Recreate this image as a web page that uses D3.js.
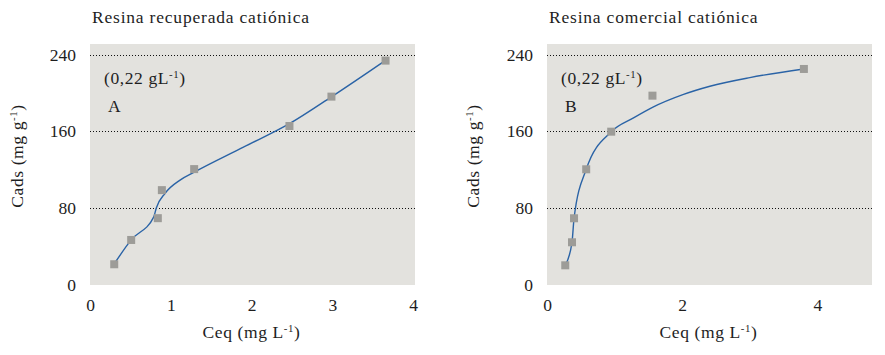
<!DOCTYPE html>
<html>
<head>
<meta charset="utf-8">
<script src="https://cdn.jsdelivr.net/npm/d3@7"></script>
<style>
  body { margin: 0; background: #fff; }
  .grid line { stroke: #111; stroke-width: 1; stroke-dasharray: 1,2; }
</style>
</head>
<body>
<div id="chart"></div>
<script>
// y ticks shared by both panels
const yTicks = [0, 80, 160, 240];

// panel A: Resina recuperada catiónica
const titleA = "Resina recuperada catiónica";
const xTicksA = [0, 1, 2, 3, 4];
const ceqA = [0.30, 0.51, 0.84, 0.89, 1.29, 2.47, 2.99, 3.66];
const cadsA = [21.6, 46.9, 69.6, 98.8, 120.7, 165.6, 196.2, 233.7];
// fitted curve
const fitCeqA = [0.30, 0.51, 0.79, 0.82, 0.93, 1.12, 1.29, 1.9, 2.47, 2.99, 3.66];
const fitCadsA = [22, 47, 71, 80, 95.5, 109.5, 117.5, 143.6, 168, 196, 234];

// panel B: Resina comercial catiónica
const titleB = "Resina comercial catiónica";
const xTicksB = [0, 2, 4];
const ceqB = [0.27, 0.37, 0.40, 0.58, 0.95, 1.56, 3.80];
const cadsB = [20.5, 44.5, 69.5, 120.5, 159.7, 197.2, 225];
const fitCeqB = [0.27, 0.37, 0.40, 0.58, 0.95, 1.28, 1.56, 2.02, 2.41, 3.0, 3.80];
const fitCadsB = [20.5, 44.5, 69.5, 120.5, 159.5, 174, 185, 198.5, 207, 216, 225];

const W = 885, H = 355;
const FONT = "'Liberation Serif', 'Times New Roman', serif";

const svg = d3.select("#chart").append("svg")
  .attr("width", W)
  .attr("height", H);

function serif(sel, size, spacing) {
  sel.style("font-family", FONT)
    .style("font-size", size + "px")
    .style("letter-spacing", (spacing || 0) + "px")
    .style("fill", "#1e1e1e");
}

function supLabel(sel, before, after) {
  sel.text(before);
  sel.append("tspan").style("font-size", "62%").attr("dy", -6).text("-1");
  sel.append("tspan").attr("dy", 6).text(after);
}

function drawPanel(opt) {
  const g = svg.append("g")
    .attr("transform", "translate(" + opt.left + "," + opt.top + ")");
  const width = opt.width, height = opt.height;

  const x = d3.scaleLinear().domain([0, opt.xMax]).range([0, width]);
  const y = d3.scaleLinear().domain([0, 251]).range([height, 0]);

  g.append("rect")
    .attr("width", width)
    .attr("height", height)
    .attr("fill", "#e3e2de");

  // dotted grid lines
  g.append("g")
    .attr("class", "grid")
    .selectAll("line")
    .data(yTicks.filter(d => d > 0))
    .join("line")
    .attr("x1", 0)
    .attr("x2", width)
    .attr("y1", d => Math.round(y(d)) + 0.5)
    .attr("y2", d => Math.round(y(d)) + 0.5);

  const yAxis = g.append("g")
    .call(d3.axisLeft(y).tickValues(yTicks).tickFormat(d3.format("d"))
      .tickSize(0).tickPadding(14));
  yAxis.select(".domain").remove();
  yAxis.selectAll("text").call(serif, 17.5);

  const xAxis = g.append("g")
    .attr("transform", "translate(0," + height + ")")
    .call(d3.axisBottom(x).tickValues(opt.xTicks).tickFormat(d3.format("d"))
      .tickSize(0).tickPadding(14));
  xAxis.select(".domain").remove();
  xAxis.selectAll("text").call(serif, 17.5);

  // fitted curve
  const fit = opt.fitX.map((d, i) => [d, opt.fitY[i]]);
  const line = d3.line()
    .x(d => x(d[0]))
    .y(d => y(d[1]))
    .curve(d3.curveMonotoneX);
  g.append("path")
    .attr("d", line(fit))
    .attr("fill", "none")
    .attr("stroke", "#2a63a6")
    .attr("stroke-width", 1.4);

  // observed points
  const pts = opt.dataX.map((d, i) => [d, opt.dataY[i]]);
  g.selectAll("rect.pt")
    .data(pts)
    .join("rect")
    .attr("class", "pt")
    .attr("x", d => x(d[0]) - 4)
    .attr("y", d => y(d[1]) - 4)
    .attr("width", 8)
    .attr("height", 8)
    .attr("fill", "#9d9c98");

  // title
  g.append("text")
    .attr("x", 2)
    .attr("y", -21)
    .call(serif, 17.5, 0.8)
    .text(opt.title);

  // annotations
  g.append("text")
    .attr("x", 14)
    .attr("y", 40)
    .call(serif, 17.5, 0.6)
    .call(s => supLabel(s, "(0,22 gL", ")"));

  g.append("text")
    .attr("x", 18)
    .attr("y", 68)
    .call(serif, 17.5)
    .text(opt.label);

  // axis titles
  g.append("text")
    .attr("x", width / 2 - 1)
    .attr("y", height + 53)
    .attr("text-anchor", "middle")
    .call(serif, 17.5, 0.6)
    .call(s => supLabel(s, "Ceq (mg L", ")"));

  g.append("text")
    .attr("transform", "translate(" + (opt.yTitleX - opt.left) + "," + (156 - opt.top) + ") rotate(-90)")
    .attr("text-anchor", "middle")
    .call(serif, 17.5, 0.6)
    .call(s => supLabel(s, "Cads (mg g", ")"));
}

drawPanel({
  left: 90, top: 44, width: 325, height: 241,
  xMax: 325 / 80.75, xTicks: xTicksA,
  dataX: ceqA, dataY: cadsA, fitX: fitCeqA, fitY: fitCadsA,
  title: titleA, label: "A", yTitleX: 23
});

drawPanel({
  left: 547, top: 44, width: 325, height: 241,
  xMax: 325 / 67.6, xTicks: xTicksB,
  dataX: ceqB, dataY: cadsB, fitX: fitCeqB, fitY: fitCadsB,
  title: titleB, label: "B", yTitleX: 479
});
</script>
</body>
</html>
